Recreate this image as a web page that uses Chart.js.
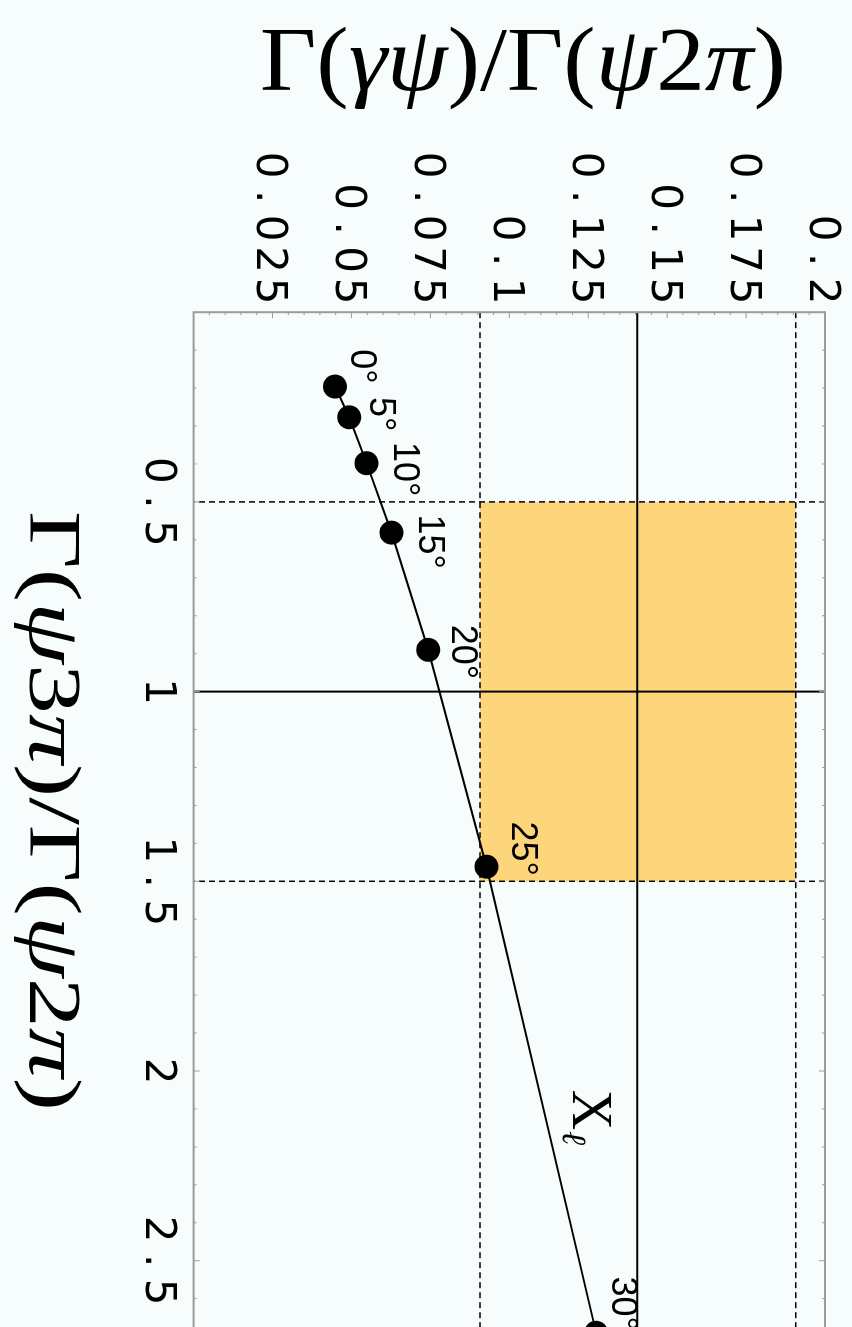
<!DOCTYPE html>
<html>
<head>
<meta charset="utf-8">
<script src="https://cdn.jsdelivr.net/npm/chart.js@4.4.1/dist/chart.umd.min.js"></script>
<style>
  html, body { margin: 0; padding: 0; width: 852px; height: 1327px; overflow: hidden; background: #f7fcfd; }
  /* the plot is laid out landscape and turned a quarter clockwise onto the portrait page */
  #turn { position: absolute; left: 0; top: 0; width: 1500px; height: 852px;
          transform-origin: 0 0; transform: translate(852px, 0) rotate(90deg); }
  canvas { display: block; }
</style>
</head>
<body>
<div id="turn"><canvas id="plot" width="1500" height="852"></canvas></div>
<script>
// mixing angle labels along the curve
const mixingAngles = ['0°', '5°', '10°', '15°', '20°', '25°', '30°'];
// Γ(ψ3π)/Γ(ψ2π) for each angle
const ratio3pi = [0.196, 0.277, 0.398, 0.581, 0.890, 1.4615, 2.69];
// Γ(γψ)/Γ(ψ2π) for each angle
const ratioGamma = [0.0448, 0.0493, 0.0548, 0.0627, 0.0743, 0.0928, 0.1275];

// measured window: lower edge, central value, upper edge
const windowX = [0.5, 1.0, 1.5];
const windowY = [0.0907, 0.1405, 0.1907];

// axis ticks
const xTickValues = [0.5, 1, 1.5, 2, 2.5];
const yTickValues = [0.025, 0.05, 0.075, 0.1, 0.125, 0.15, 0.175, 0.2];

// where the curve name sits (data coordinates)
const curveName = { x: 2.103, y: 0.1202 };

// small pixel nudges for each angle label relative to its point
const angleNudge = [[-20, -26], [-3, -31], [6, -37], [9, -37], [2, -34], [-18, -35], [-29, -26]];

const INK = '#000000';
const FRAME = '#9c9c9c';
const BAND = '#fdd57a';
const TICK_FONT = '42px "DejaVu Sans", "Liberation Sans", sans-serif';
const TICK_PITCH = 31.5;   // typewriter-style spacing of tick numerals
const TICK_RISE = 15.3;    // half the numeral height, to centre digits on a tick

function seg(ctx, x0, y0, x1, y1) {
  ctx.beginPath(); ctx.moveTo(x0, y0); ctx.lineTo(x1, y1); ctx.stroke();
}

// one character per fixed-width cell; anchorX is the centre of the first cell
function spacedText(ctx, text, anchorX, baseline) {
  ctx.textAlign = 'center';
  ctx.textBaseline = 'alphabetic';
  [...text].forEach((ch, j) => ctx.fillText(ch, anchorX + j * TICK_PITCH, baseline));
}

// mixed upright / italic serif text, centred on cx, optionally stretched to a width
function richText(ctx, parts, size, cx, baseline, targetWidth) {
  const fontFor = it => `${it ? 'italic ' : ''}${size}px "Liberation Serif", "DejaVu Serif", serif`;
  const widths = parts.map(([t, it]) => { ctx.font = fontFor(it); return ctx.measureText(t).width; });
  const total = widths.reduce((a, b) => a + b, 0);
  const sx = targetWidth ? targetWidth / total : 1;
  ctx.save();
  ctx.translate(cx, baseline);
  ctx.scale(sx, 1);
  ctx.textAlign = 'left';
  ctx.textBaseline = 'alphabetic';
  let pos = -total / 2;
  parts.forEach(([t, it], i) => { ctx.font = fontFor(it); ctx.fillText(t, pos, 0); pos += widths[i]; });
  ctx.restore();
}

const backdrop = {
  id: 'backdrop',
  beforeDraw(chart) {
    const ctx = chart.ctx;
    ctx.save();
    ctx.fillStyle = '#f7fcfd';
    ctx.fillRect(0, 0, chart.width, chart.height);
    ctx.restore();
  }
};

const windowAndFrame = {
  id: 'windowAndFrame',
  beforeDatasetsDraw(chart) {
    const { ctx, chartArea: a, scales: { x, y } } = chart;
    ctx.save();
    // shaded measured window
    const bx0 = x.getPixelForValue(windowX[0]), bx1 = x.getPixelForValue(windowX[2]);
    const by0 = y.getPixelForValue(windowY[2]), by1 = y.getPixelForValue(windowY[0]);
    ctx.fillStyle = BAND;
    ctx.fillRect(bx0, by0, bx1 - bx0, by1 - by0);
    // central values solid, edges dashed
    ctx.strokeStyle = INK;
    for (let i = 0; i < 3; i++) {
      const central = i === 1;
      ctx.setLineDash(central ? [] : [6, 4]);
      ctx.lineWidth = central ? 2 : 1.5;
      const px = x.getPixelForValue(windowX[i]);
      seg(ctx, px, a.top, px, a.bottom);
      const py = y.getPixelForValue(windowY[i]);
      seg(ctx, a.left, py, a.right, py);
    }
    ctx.setLineDash([]);
    // frame with inward ticks
    ctx.strokeStyle = FRAME;
    ctx.lineWidth = 2;
    ctx.strokeRect(a.left, a.top, a.right - a.left, a.bottom - a.top);
    ctx.lineWidth = 1;
    for (let k = 1; k < 30; k++) {
      const px = x.getPixelForValue(k / 10);
      const len = k % 5 === 0 ? 6 : 3;
      seg(ctx, px, a.bottom, px, a.bottom - len);
      seg(ctx, px, a.top, px, a.top + len);
    }
    for (let k = 1; k < 40; k++) {
      const py = y.getPixelForValue(k * 0.005);
      const len = k % 5 === 0 ? 6 : 3;
      seg(ctx, a.left, py, a.left + len, py);
      seg(ctx, a.right, py, a.right - len, py);
    }
    ctx.restore();
  },
  afterDatasetsDraw(chart) {
    const { ctx, scales: { x, y } } = chart;
    const pts = chart.getDatasetMeta(0).data;
    ctx.save();
    ctx.fillStyle = INK;
    // angle labels
    ctx.font = '36px "Liberation Sans", "DejaVu Sans", sans-serif';
    ctx.textAlign = 'center';
    ctx.textBaseline = 'middle';
    mixingAngles.forEach((t, i) => {
      const p = pts[i];
      ctx.fillText(t, p.x + angleNudge[i][0], p.y + angleNudge[i][1]);
    });
    // curve name X with script-ell subscript
    const nx = x.getPixelForValue(curveName.x), ny = y.getPixelForValue(curveName.y);
    ctx.textBaseline = 'alphabetic';
    ctx.font = '56px "Liberation Serif", "DejaVu Serif", serif';
    ctx.fillText('X', nx, ny);
    ctx.textAlign = 'left';
    ctx.font = 'italic 34px "DejaVu Serif", "Liberation Serif", serif';
    ctx.fillText('ℓ', nx + 21, ny + 10);
    ctx.restore();
  },
  afterDraw(chart) {
    const { ctx, chartArea: a, scales: { x, y } } = chart;
    ctx.save();
    ctx.fillStyle = INK;
    // tick numerals, placed by each scale's own tick pixels
    ctx.font = TICK_FONT;
    x.ticks.forEach((t, i) => {
      const label = String(t.label);
      const px = x.getPixelForTick(i);
      spacedText(ctx, label, px - (label.length - 1) * TICK_PITCH / 2, a.bottom + 32 + TICK_RISE);
    });
    y.ticks.forEach((t, i) => {
      const label = String(t.label);
      const py = y.getPixelForTick(i);
      spacedText(ctx, label, a.left - 21 - (label.length - 1) * TICK_PITCH, py + TICK_RISE);
    });
    // horizontal axis title
    richText(ctx, [['Γ(', false], ['ψ', true], ['3', false], ['π', true], [')/Γ(', false], ['ψ', true], ['2', false], ['π', true], [')', false]],
      74, 811, 822, 600);
    // vertical axis title
    ctx.translate(90, 329);
    ctx.rotate(-Math.PI / 2);
    richText(ctx, [['Γ(', false], ['γψ', true], [')/Γ(', false], ['ψ', true], ['2', false], ['π', true], [')', false]],
      90, 0, 0, 526);
    ctx.restore();
  }
};

new Chart(document.getElementById('plot'), {
  type: 'scatter',
  data: {
    datasets: [{
      data: ratio3pi.map((v, i) => ({ x: v, y: ratioGamma[i] })),
      showLine: true,
      borderColor: INK,
      borderWidth: 2,
      backgroundColor: INK,
      pointRadius: 12,
      pointBorderWidth: 0,
      pointHoverRadius: 12,
      clip: false
    }]
  },
  options: {
    responsive: false,
    animation: false,
    events: [],
    layout: { padding: { top: 27, right: 49.6, left: 0, bottom: 0 } },
    plugins: { legend: { display: false }, tooltip: { enabled: false } },
    scales: {
      x: {
        type: 'linear', min: 0, max: 3,
        grid: { display: false, drawTicks: false },
        border: { display: false },
        afterBuildTicks: s => { s.ticks = xTickValues.map(v => ({ value: v })); },
        afterFit: s => { s.height = 193.6; },
        ticks: { display: false, autoSkip: false, maxRotation: 0, callback: v => String(v) }
      },
      y: {
        type: 'linear', min: 0, max: 0.2,
        grid: { display: false, drawTicks: false },
        border: { display: false },
        afterBuildTicks: s => { s.ticks = yTickValues.map(v => ({ value: v })); },
        afterFit: s => { s.width = 312.2; },
        ticks: { display: false, autoSkip: false, callback: v => String(v) }
      }
    }
  },
  plugins: [backdrop, windowAndFrame]
});
</script>
</body>
</html>
